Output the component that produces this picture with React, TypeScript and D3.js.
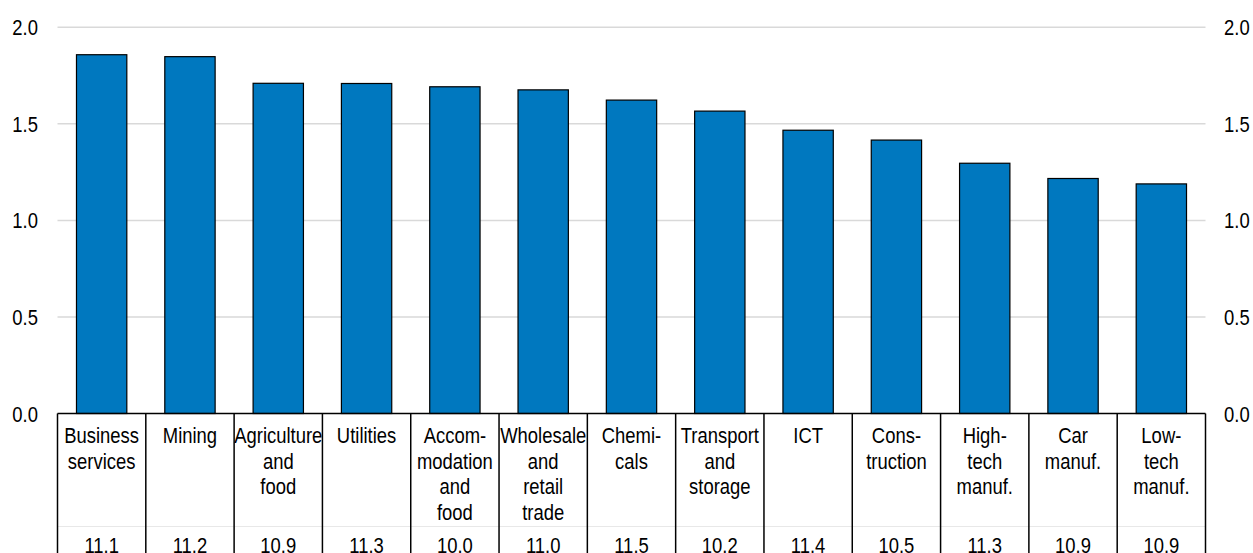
import React from "react";
import * as d3 from "d3";

const categories: string[][] = [
  ["Business", "services"],
  ["Mining"],
  ["Agriculture", "and", "food"],
  ["Utilities"],
  ["Accom-", "modation", "and", "food"],
  ["Wholesale", "and", "retail", "trade"],
  ["Chemi-", "cals"],
  ["Transport", "and", "storage"],
  ["ICT"],
  ["Cons-", "truction"],
  ["High-", "tech", "manuf."],
  ["Car", "manuf."],
  ["Low-", "tech", "manuf."],
];
const values = [1.858, 1.848, 1.71, 1.709, 1.692, 1.676, 1.623, 1.566, 1.467, 1.416, 1.296, 1.217, 1.189];
const bottomLabels = ["11.1", "11.2", "10.9", "11.3", "10.0", "11.0", "11.5", "10.2", "11.4", "10.5", "11.3", "10.9", "10.9"];
const yTicks = [0, 0.5, 1.0, 1.5, 2.0];

const W = 1253;
const H = 553;
const FONT = "'Liberation Sans', Arial, sans-serif";
const FS = 22.5;
const SX = 0.82;

export default function App() {
  const x = d3.scaleBand<number>().domain(d3.range(categories.length)).range([57.5, 1205.5]).padding(0);
  const y = d3.scaleLinear().domain([0, 2]).range([413.5, 27.3]);
  const bw = x.bandwidth() * 0.57;
  const x0 = 57.5;
  const x1 = 1205.5;

  const txt = (tx: number, ty: number, s: string, anchor: string, key?: string | number) => (
    <text
      key={key}
      transform={`translate(${tx},${ty}) scale(${SX},1)`}
      textAnchor={anchor as any}
      fontFamily={FONT}
      fontSize={FS}
      fill="#000"
    >
      {s}
    </text>
  );

  return (
    <svg
      width={W}
      height={H}
      style={{ position: "absolute", left: 0, top: 0, background: "#fff" }}
    >
      {yTicks.filter((t) => t > 0).map((t) => (
        <line key={t} x1={x0} x2={x1} y1={y(t)} y2={y(t)} stroke="#d9d9d9" strokeWidth={1.5} />
      ))}
      {yTicks.map((t) => (
        <g key={"tl" + t}>
          {txt(38, y(t) + 8, d3.format(".1f")(t), "end")}
          {txt(1224, y(t) + 8, d3.format(".1f")(t), "start")}
        </g>
      ))}
      {values.map((v, i) => {
        const cx = (x(i) as number) + x.bandwidth() / 2;
        return (
          <rect
            key={"b" + i}
            x={cx - bw / 2}
            y={y(v)}
            width={bw}
            height={y(0) - y(v)}
            fill="#0078BF"
            stroke="#000"
            strokeWidth={1.2}
          />
        );
      })}
      <line x1={x0} x2={x1} y1={526.5} y2={526.5} stroke="#e8e8e8" strokeWidth={1} />
      <line x1={x0} x2={x1} y1={y(0)} y2={y(0)} stroke="#000" strokeWidth={1.5} />
      {d3.range(categories.length + 1).map((i) => {
        const sx = i < categories.length ? (x(i) as number) : x1;
        return <line key={"s" + i} x1={sx} x2={sx} y1={y(0)} y2={H} stroke="#000" strokeWidth={1.5} />;
      })}
      {categories.map((lines, i) => {
        const cx = (x(i) as number) + x.bandwidth() / 2;
        return (
          <g key={"c" + i}>
            {lines.map((l, j) => txt(cx, 443 + j * 25.5, l, "middle", j))}
            {txt(cx, 553, bottomLabels[i], "middle", "v")}
          </g>
        );
      })}
    </svg>
  );
}
